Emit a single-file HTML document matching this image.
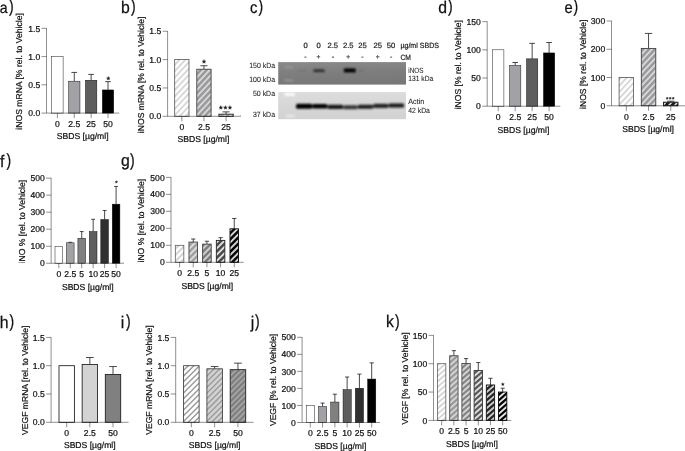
<!DOCTYPE html>
<html><head><meta charset="utf-8"><title>Figure</title>
<style>html,body{margin:0;padding:0;background:#fff;}svg{display:block;font-family:"Liberation Sans",sans-serif;text-rendering:geometricPrecision;}</style></head>
<body>
<svg width="685" height="451" viewBox="0 0 685 451">
<rect width="685" height="451" fill="#fff"/>
<defs>
<clipPath id="c1"><rect x="174.7" y="59.6" width="14.3" height="56.7"/></clipPath>
<clipPath id="c2"><rect x="196.8" y="69.24" width="14.3" height="47.06"/></clipPath>
<clipPath id="c3"><rect x="218.9" y="114.2" width="14.3" height="2.1"/></clipPath>
<clipPath id="c4"><rect x="619.1" y="77.53" width="14.5" height="28.27"/></clipPath>
<clipPath id="c5"><rect x="641.3" y="48.41" width="14.5" height="57.39"/></clipPath>
<clipPath id="c6"><rect x="663.5" y="102.18" width="14.5" height="3.62"/></clipPath>
<clipPath id="c7"><rect x="175.3" y="245.31" width="8.55" height="16.99"/></clipPath>
<clipPath id="c8"><rect x="188.97" y="242.08" width="8.55" height="20.22"/></clipPath>
<clipPath id="c9"><rect x="202.64" y="244.12" width="8.55" height="18.18"/></clipPath>
<clipPath id="c10"><rect x="216.31" y="240.38" width="8.55" height="21.92"/></clipPath>
<clipPath id="c11"><rect x="229.98" y="228.83" width="8.55" height="33.47"/></clipPath>
<clipPath id="c12"><rect x="183.6" y="365.7" width="15.5" height="56.6"/></clipPath>
<clipPath id="c13"><rect x="206.9" y="368.81" width="15.5" height="53.49"/></clipPath>
<clipPath id="c14"><rect x="230.2" y="369.66" width="15.5" height="52.64"/></clipPath>
<clipPath id="c15"><rect x="437.5" y="363.7" width="8.35" height="56.7"/></clipPath>
<clipPath id="c16"><rect x="449.7" y="355.76" width="8.35" height="64.64"/></clipPath>
<clipPath id="c17"><rect x="461.9" y="363.42" width="8.35" height="56.98"/></clipPath>
<clipPath id="c18"><rect x="474.1" y="370.5" width="8.35" height="49.9"/></clipPath>
<clipPath id="c19"><rect x="486.3" y="384.96" width="8.35" height="35.44"/></clipPath>
<clipPath id="c20"><rect x="498.5" y="392.05" width="8.35" height="28.35"/></clipPath>
<filter id="bl" x="-20%" y="-100%" width="140%" height="300%"><feGaussianBlur stdDeviation="0.8"/></filter>
<filter id="bl2" x="-20%" y="-100%" width="140%" height="300%"><feGaussianBlur stdDeviation="1.1"/></filter>
<linearGradient id="g1" x1="0" x2="0.15" y1="0" y2="1"><stop offset="0" stop-color="#8a8a8a"/><stop offset="0.5" stop-color="#7e7e7e"/><stop offset="1" stop-color="#787878"/></linearGradient>
<linearGradient id="g2" x1="0" x2="0" y1="0" y2="1"><stop offset="0" stop-color="#dcdcdc"/><stop offset="1" stop-color="#d2d2d2"/></linearGradient>
</defs>
<g opacity="0.999">
<text transform="translate(-0.21 12.6) scale(0.9 1)" font-size="15.7" fill="#111" stroke="#111" stroke-width="0.25">a</text>
<text transform="translate(8.9 12.1) scale(0.8 1)" font-size="17.5" fill="#111" stroke="#111" stroke-width="0.25">)</text>
<text transform="translate(121.07 12.6) scale(0.94 1)" font-size="16.8" fill="#111" stroke="#111" stroke-width="0.25">b</text>
<text transform="translate(131 12.1) scale(0.8 1)" font-size="17.5" fill="#111" stroke="#111" stroke-width="0.25">)</text>
<text transform="translate(250.07 12.7) scale(0.9 1)" font-size="16.4" fill="#111" stroke="#111" stroke-width="0.25">c</text>
<text transform="translate(258.5 12.2) scale(0.8 1)" font-size="17.5" fill="#111" stroke="#111" stroke-width="0.25">)</text>
<text transform="translate(438.34 12.7) scale(0.94 1)" font-size="16.8" fill="#111" stroke="#111" stroke-width="0.25">d</text>
<text transform="translate(448 12.2) scale(0.8 1)" font-size="17.5" fill="#111" stroke="#111" stroke-width="0.25">)</text>
<text transform="translate(564.47 12.7) scale(0.9 1)" font-size="16.4" fill="#111" stroke="#111" stroke-width="0.25">e</text>
<text transform="translate(573.6 12.2) scale(0.8 1)" font-size="17.5" fill="#111" stroke="#111" stroke-width="0.25">)</text>
<text transform="translate(0.02 166.5) scale(0.94 1)" font-size="16.8" fill="#111" stroke="#111" stroke-width="0.25">f</text>
<text transform="translate(6.5 166) scale(0.8 1)" font-size="17.5" fill="#111" stroke="#111" stroke-width="0.25">)</text>
<text transform="translate(121.04 166.4) scale(0.94 1)" font-size="16.8" fill="#111" stroke="#111" stroke-width="0.25">g</text>
<text transform="translate(130 165.9) scale(0.8 1)" font-size="17.5" fill="#111" stroke="#111" stroke-width="0.25">)</text>
<text transform="translate(-0.23 327.5) scale(0.94 1)" font-size="16.8" fill="#111" stroke="#111" stroke-width="0.25">h</text>
<text transform="translate(9.6 327) scale(0.8 1)" font-size="17.5" fill="#111" stroke="#111" stroke-width="0.25">)</text>
<text transform="translate(120.87 327.5) scale(0.94 1)" font-size="16.8" fill="#111" stroke="#111" stroke-width="0.25">i</text>
<text transform="translate(125.9 327) scale(0.8 1)" font-size="17.5" fill="#111" stroke="#111" stroke-width="0.25">)</text>
<text transform="translate(250.75 327.5) scale(0.94 1)" font-size="16.8" fill="#111" stroke="#111" stroke-width="0.25">j</text>
<text transform="translate(255 327) scale(0.8 1)" font-size="17.5" fill="#111" stroke="#111" stroke-width="0.25">)</text>
<text transform="translate(386.07 327.1) scale(0.94 1)" font-size="16.8" fill="#111" stroke="#111" stroke-width="0.25">k</text>
<text transform="translate(395 326.6) scale(0.8 1)" font-size="17.5" fill="#111" stroke="#111" stroke-width="0.25">)</text>
<rect x="51.7" y="56.6" width="11.4" height="56.5" fill="#ffffff" stroke="#0a0a0a" stroke-width="0.46"/>
<path d="M74.27 81.18L74.27 72.42" stroke="#1c1c1c" stroke-width="0.8" fill="none"/>
<path d="M71.42 72.42L77.12 72.42" stroke="#1c1c1c" stroke-width="0.8" fill="none"/>
<rect x="68.57" y="81.18" width="11.4" height="31.92" fill="#a2a2a6" stroke="#0a0a0a" stroke-width="0.46"/>
<path d="M91.14 80.22L91.14 74.4" stroke="#1c1c1c" stroke-width="0.8" fill="none"/>
<path d="M88.29 74.4L93.99 74.4" stroke="#1c1c1c" stroke-width="0.8" fill="none"/>
<rect x="85.44" y="80.22" width="11.4" height="32.88" fill="#5e5e5e" stroke="#0a0a0a" stroke-width="0.46"/>
<path d="M108.01 89.94L108.01 81.63" stroke="#1c1c1c" stroke-width="0.8" fill="none"/>
<path d="M105.16 81.63L110.86 81.63" stroke="#1c1c1c" stroke-width="0.8" fill="none"/>
<rect x="102.31" y="89.94" width="11.4" height="23.16" fill="#000000" stroke="#0a0a0a" stroke-width="0.46"/>
<path d="M46.5 28.12L46.5 113.1" stroke="#0a0a0a" stroke-width="0.46" fill="none"/>
<path d="M41.5 113.1L119.3 113.1" stroke="#0a0a0a" stroke-width="0.46" fill="none"/>
<text x="40.2" y="116.25" font-size="8.6" text-anchor="end" fill="#111" stroke="#111" stroke-width="0.22">0.0</text>
<path d="M41.5 84.85L46.5 84.85" stroke="#0a0a0a" stroke-width="0.46" fill="none"/>
<text x="40.2" y="88" font-size="8.6" text-anchor="end" fill="#111" stroke="#111" stroke-width="0.22">0.5</text>
<path d="M41.5 56.6L46.5 56.6" stroke="#0a0a0a" stroke-width="0.46" fill="none"/>
<text x="40.2" y="59.75" font-size="8.6" text-anchor="end" fill="#111" stroke="#111" stroke-width="0.22">1.0</text>
<path d="M41.5 28.35L46.5 28.35" stroke="#0a0a0a" stroke-width="0.46" fill="none"/>
<text x="40.2" y="31.5" font-size="8.6" text-anchor="end" fill="#111" stroke="#111" stroke-width="0.22">1.5</text>
<path d="M57.4 113.1L57.4 118.1" stroke="#0a0a0a" stroke-width="0.46" fill="none"/>
<text x="57.4" y="126.95" font-size="8.6" text-anchor="middle" fill="#111" stroke="#111" stroke-width="0.22">0</text>
<path d="M74.27 113.1L74.27 118.1" stroke="#0a0a0a" stroke-width="0.46" fill="none"/>
<text x="74.27" y="126.95" font-size="8.6" text-anchor="middle" fill="#111" stroke="#111" stroke-width="0.22">2.5</text>
<path d="M91.14 113.1L91.14 118.1" stroke="#0a0a0a" stroke-width="0.46" fill="none"/>
<text x="91.14" y="126.95" font-size="8.6" text-anchor="middle" fill="#111" stroke="#111" stroke-width="0.22">25</text>
<path d="M108.01 113.1L108.01 118.1" stroke="#0a0a0a" stroke-width="0.46" fill="none"/>
<text x="108.01" y="126.95" font-size="8.6" text-anchor="middle" fill="#111" stroke="#111" stroke-width="0.22">50</text>
<text x="82.7" y="139.25" font-size="8.6" text-anchor="middle" fill="#111" stroke="#111" stroke-width="0.22">SBDS [µg/ml]</text>
<text x="22.35" y="71.4" font-size="8.6" text-anchor="middle" fill="#111" stroke="#111" stroke-width="0.22" transform="rotate(-90 22.35 71.4)">iNOS mRNA [% rel. to Vehicle]</text>
<path d="M108.3 76.53L108.76 77.76L110.08 77.82L109.05 78.64L109.4 79.91L108.3 79.19L107.2 79.91L107.55 78.64L106.52 77.82L107.84 77.76Z" fill="#1a1a1a" stroke="#1a1a1a" stroke-width="0.35" stroke-linejoin="round"/>
<rect x="174.7" y="59.6" width="14.3" height="56.7" fill="#fff"/>
<path d="M172.7 136.34L191 116.72M172.7 130.04L191 110.42M172.7 123.74L191 104.12M172.7 117.44L191 97.82M172.7 111.14L191 91.52M172.7 104.84L191 85.22M172.7 98.54L191 78.92M172.7 92.24L191 72.62M172.7 85.94L191 66.32M172.7 79.64L191 60.02M172.7 73.34L191 53.72M172.7 67.04L191 47.42M172.7 60.74L191 41.12" stroke="#d6d6d6" stroke-width="1.8" fill="none" clip-path="url(#c1)"/>
<rect x="174.7" y="59.6" width="14.3" height="56.7" fill="none" stroke="#4a4a4a" stroke-width="0.75"/>
<path d="M203.95 69.24L203.95 65.72" stroke="#1c1c1c" stroke-width="0.8" fill="none"/>
<path d="M200.38 65.72L207.52 65.72" stroke="#1c1c1c" stroke-width="0.8" fill="none"/>
<rect x="196.8" y="69.24" width="14.3" height="47.06" fill="#9a9a9e"/>
<path d="M194.8 136.34L213.1 116.72M194.8 130.04L213.1 110.42M194.8 123.74L213.1 104.12M194.8 117.44L213.1 97.82M194.8 111.14L213.1 91.52M194.8 104.84L213.1 85.22M194.8 98.54L213.1 78.92M194.8 92.24L213.1 72.62M194.8 85.94L213.1 66.32M194.8 79.64L213.1 60.02M194.8 73.34L213.1 53.72" stroke="#d8d8d8" stroke-width="1.8" fill="none" clip-path="url(#c2)"/>
<rect x="196.8" y="69.24" width="14.3" height="47.06" fill="none" stroke="#3c3c3c" stroke-width="0.85"/>
<path d="M226.05 114.2L226.05 111.88" stroke="#1c1c1c" stroke-width="0.8" fill="none"/>
<path d="M222.47 111.88L229.62 111.88" stroke="#1c1c1c" stroke-width="0.8" fill="none"/>
<rect x="218.9" y="114.2" width="14.3" height="2.1" fill="#bbb"/>
<path d="M216.9 136.34L235.2 116.72M216.9 130.04L235.2 110.42M216.9 123.74L235.2 104.12M216.9 117.44L235.2 97.82" stroke="#fff" stroke-width="1.93" fill="none" clip-path="url(#c3)"/>
<rect x="218.9" y="114.2" width="14.3" height="2.1" fill="none" stroke="#1a1a1a" stroke-width="0.9"/>
<path d="M167.6 31.02L167.6 116.3" stroke="#0a0a0a" stroke-width="0.46" fill="none"/>
<path d="M162.6 116.3L240.2 116.3" stroke="#0a0a0a" stroke-width="0.46" fill="none"/>
<text x="161.3" y="119.45" font-size="8.6" text-anchor="end" fill="#111" stroke="#111" stroke-width="0.22">0.0</text>
<path d="M162.6 87.95L167.6 87.95" stroke="#0a0a0a" stroke-width="0.46" fill="none"/>
<text x="161.3" y="91.1" font-size="8.6" text-anchor="end" fill="#111" stroke="#111" stroke-width="0.22">0.5</text>
<path d="M162.6 59.6L167.6 59.6" stroke="#0a0a0a" stroke-width="0.46" fill="none"/>
<text x="161.3" y="62.75" font-size="8.6" text-anchor="end" fill="#111" stroke="#111" stroke-width="0.22">1.0</text>
<path d="M162.6 31.25L167.6 31.25" stroke="#0a0a0a" stroke-width="0.46" fill="none"/>
<text x="161.3" y="34.4" font-size="8.6" text-anchor="end" fill="#111" stroke="#111" stroke-width="0.22">1.5</text>
<path d="M181.85 116.3L181.85 121.3" stroke="#0a0a0a" stroke-width="0.46" fill="none"/>
<text x="181.85" y="130.15" font-size="8.6" text-anchor="middle" fill="#111" stroke="#111" stroke-width="0.22">0</text>
<path d="M203.95 116.3L203.95 121.3" stroke="#0a0a0a" stroke-width="0.46" fill="none"/>
<text x="203.95" y="130.15" font-size="8.6" text-anchor="middle" fill="#111" stroke="#111" stroke-width="0.22">2.5</text>
<path d="M226.05 116.3L226.05 121.3" stroke="#0a0a0a" stroke-width="0.46" fill="none"/>
<text x="226.05" y="130.15" font-size="8.6" text-anchor="middle" fill="#111" stroke="#111" stroke-width="0.22">25</text>
<text x="203.4" y="142.35" font-size="8.6" text-anchor="middle" fill="#111" stroke="#111" stroke-width="0.22">SBDS [µg/ml]</text>
<text x="143.85" y="74.9" font-size="8.6" text-anchor="middle" fill="#111" stroke="#111" stroke-width="0.22" transform="rotate(-90 143.85 74.9)">iNOS mRNA [% rel. to Vehicle]</text>
<path d="M204 59.61L204.49 60.92L205.89 60.99L204.79 61.86L205.17 63.21L204 62.44L202.83 63.21L203.21 61.86L202.11 60.99L203.51 60.92Z" fill="#1a1a1a" stroke="#1a1a1a" stroke-width="0.35" stroke-linejoin="round"/>
<path d="M220.85 105.61L221.34 106.92L222.74 106.99L221.64 107.86L222.02 109.21L220.85 108.44L219.68 109.21L220.05 107.86L218.96 106.99L220.36 106.92Z" fill="#1a1a1a" stroke="#1a1a1a" stroke-width="0.35" stroke-linejoin="round"/>
<path d="M225.4 105.61L225.89 106.92L227.29 106.99L226.19 107.86L226.57 109.21L225.4 108.44L224.23 109.21L224.61 107.86L223.51 106.99L224.91 106.92Z" fill="#1a1a1a" stroke="#1a1a1a" stroke-width="0.35" stroke-linejoin="round"/>
<path d="M229.95 105.61L230.44 106.92L231.84 106.99L230.75 107.86L231.12 109.21L229.95 108.44L228.78 109.21L229.16 107.86L228.06 106.99L229.46 106.92Z" fill="#1a1a1a" stroke="#1a1a1a" stroke-width="0.35" stroke-linejoin="round"/>
<rect x="492.6" y="49.83" width="11.3" height="56.37" fill="#ffffff" stroke="#0a0a0a" stroke-width="0.46"/>
<path d="M515.2 65.33L515.2 62.51" stroke="#1c1c1c" stroke-width="0.8" fill="none"/>
<path d="M512.38 62.51L518.03 62.51" stroke="#1c1c1c" stroke-width="0.8" fill="none"/>
<rect x="509.55" y="65.33" width="11.3" height="40.87" fill="#a2a2a6" stroke="#0a0a0a" stroke-width="0.46"/>
<path d="M532.15 58.85L532.15 43.35" stroke="#1c1c1c" stroke-width="0.8" fill="none"/>
<path d="M529.33 43.35L534.97 43.35" stroke="#1c1c1c" stroke-width="0.8" fill="none"/>
<rect x="526.5" y="58.85" width="11.3" height="47.35" fill="#5e5e5e" stroke="#0a0a0a" stroke-width="0.46"/>
<path d="M549.1 52.93L549.1 42.5" stroke="#1c1c1c" stroke-width="0.8" fill="none"/>
<path d="M546.28 42.5L551.92 42.5" stroke="#1c1c1c" stroke-width="0.8" fill="none"/>
<rect x="543.45" y="52.93" width="11.3" height="53.27" fill="#000000" stroke="#0a0a0a" stroke-width="0.46"/>
<path d="M487.2 21.42L487.2 106.2" stroke="#0a0a0a" stroke-width="0.46" fill="none"/>
<path d="M482.2 106.2L560.3 106.2" stroke="#0a0a0a" stroke-width="0.46" fill="none"/>
<text x="480.9" y="109.35" font-size="8.6" text-anchor="end" fill="#111" stroke="#111" stroke-width="0.22">0</text>
<path d="M482.2 78.02L487.2 78.02" stroke="#0a0a0a" stroke-width="0.46" fill="none"/>
<text x="480.9" y="81.17" font-size="8.6" text-anchor="end" fill="#111" stroke="#111" stroke-width="0.22">50</text>
<path d="M482.2 49.83L487.2 49.83" stroke="#0a0a0a" stroke-width="0.46" fill="none"/>
<text x="480.9" y="52.98" font-size="8.6" text-anchor="end" fill="#111" stroke="#111" stroke-width="0.22">100</text>
<path d="M482.2 21.65L487.2 21.65" stroke="#0a0a0a" stroke-width="0.46" fill="none"/>
<text x="480.9" y="24.8" font-size="8.6" text-anchor="end" fill="#111" stroke="#111" stroke-width="0.22">150</text>
<path d="M498.25 106.2L498.25 111.2" stroke="#0a0a0a" stroke-width="0.46" fill="none"/>
<text x="498.25" y="120.05" font-size="8.6" text-anchor="middle" fill="#111" stroke="#111" stroke-width="0.22">0</text>
<path d="M515.2 106.2L515.2 111.2" stroke="#0a0a0a" stroke-width="0.46" fill="none"/>
<text x="515.2" y="120.05" font-size="8.6" text-anchor="middle" fill="#111" stroke="#111" stroke-width="0.22">2.5</text>
<path d="M532.15 106.2L532.15 111.2" stroke="#0a0a0a" stroke-width="0.46" fill="none"/>
<text x="532.15" y="120.05" font-size="8.6" text-anchor="middle" fill="#111" stroke="#111" stroke-width="0.22">25</text>
<path d="M549.1 106.2L549.1 111.2" stroke="#0a0a0a" stroke-width="0.46" fill="none"/>
<text x="549.1" y="120.05" font-size="8.6" text-anchor="middle" fill="#111" stroke="#111" stroke-width="0.22">50</text>
<text x="523.4" y="132.55" font-size="8.6" text-anchor="middle" fill="#111" stroke="#111" stroke-width="0.22">SBDS [µg/ml]</text>
<text x="461.45" y="64.7" font-size="8.6" text-anchor="middle" fill="#111" stroke="#111" stroke-width="0.22" transform="rotate(-90 461.45 64.7)">iNOS [% rel. to Vehicle]</text>
<rect x="619.1" y="77.53" width="14.5" height="28.27" fill="#fff"/>
<path d="M617.1 125.84L635.6 106.01M617.1 119.54L635.6 99.71M617.1 113.24L635.6 93.41M617.1 106.94L635.6 87.11M617.1 100.64L635.6 80.81M617.1 94.34L635.6 74.51M617.1 88.04L635.6 68.21M617.1 81.74L635.6 61.91" stroke="#d6d6d6" stroke-width="1.8" fill="none" clip-path="url(#c4)"/>
<rect x="619.1" y="77.53" width="14.5" height="28.27" fill="none" stroke="#4a4a4a" stroke-width="0.75"/>
<path d="M648.55 48.41L648.55 33.43" stroke="#1c1c1c" stroke-width="0.8" fill="none"/>
<path d="M644.93 33.43L652.18 33.43" stroke="#1c1c1c" stroke-width="0.8" fill="none"/>
<rect x="641.3" y="48.41" width="14.5" height="57.39" fill="#9a9a9e"/>
<path d="M639.3 125.84L657.8 106.01M639.3 119.54L657.8 99.71M639.3 113.24L657.8 93.41M639.3 106.94L657.8 87.11M639.3 100.64L657.8 80.81M639.3 94.34L657.8 74.51M639.3 88.04L657.8 68.21M639.3 81.74L657.8 61.91M639.3 75.44L657.8 55.61M639.3 69.14L657.8 49.31M639.3 62.84L657.8 43.01M639.3 56.54L657.8 36.71M639.3 50.24L657.8 30.41" stroke="#d8d8d8" stroke-width="1.8" fill="none" clip-path="url(#c5)"/>
<rect x="641.3" y="48.41" width="14.5" height="57.39" fill="none" stroke="#3c3c3c" stroke-width="0.85"/>
<path d="M670.75 102.18L670.75 101.19" stroke="#1c1c1c" stroke-width="0.8" fill="none"/>
<path d="M667.12 101.19L674.38 101.19" stroke="#1c1c1c" stroke-width="0.8" fill="none"/>
<rect x="663.5" y="102.18" width="14.5" height="3.62" fill="#1c1c1c"/>
<path d="M661.5 125.84L680 106.01M661.5 119.54L680 99.71M661.5 113.24L680 93.41M661.5 106.94L680 87.11" stroke="#dddddd" stroke-width="1.55" fill="none" clip-path="url(#c6)"/>
<rect x="663.5" y="102.18" width="14.5" height="3.62" fill="none" stroke="#1a1a1a" stroke-width="0.9"/>
<path d="M611.5 20.76L611.5 105.8" stroke="#0a0a0a" stroke-width="0.46" fill="none"/>
<path d="M606.5 105.8L685.5 105.8" stroke="#0a0a0a" stroke-width="0.46" fill="none"/>
<text x="605.2" y="108.95" font-size="8.6" text-anchor="end" fill="#111" stroke="#111" stroke-width="0.22">0</text>
<path d="M606.5 77.53L611.5 77.53" stroke="#0a0a0a" stroke-width="0.46" fill="none"/>
<text x="605.2" y="80.68" font-size="8.6" text-anchor="end" fill="#111" stroke="#111" stroke-width="0.22">100</text>
<path d="M606.5 49.26L611.5 49.26" stroke="#0a0a0a" stroke-width="0.46" fill="none"/>
<text x="605.2" y="52.41" font-size="8.6" text-anchor="end" fill="#111" stroke="#111" stroke-width="0.22">200</text>
<path d="M606.5 20.99L611.5 20.99" stroke="#0a0a0a" stroke-width="0.46" fill="none"/>
<text x="605.2" y="24.14" font-size="8.6" text-anchor="end" fill="#111" stroke="#111" stroke-width="0.22">300</text>
<path d="M626.35 105.8L626.35 110.8" stroke="#0a0a0a" stroke-width="0.46" fill="none"/>
<text x="626.35" y="119.65" font-size="8.6" text-anchor="middle" fill="#111" stroke="#111" stroke-width="0.22">0</text>
<path d="M648.55 105.8L648.55 110.8" stroke="#0a0a0a" stroke-width="0.46" fill="none"/>
<text x="648.55" y="119.65" font-size="8.6" text-anchor="middle" fill="#111" stroke="#111" stroke-width="0.22">2.5</text>
<path d="M670.75 105.8L670.75 110.8" stroke="#0a0a0a" stroke-width="0.46" fill="none"/>
<text x="670.75" y="119.65" font-size="8.6" text-anchor="middle" fill="#111" stroke="#111" stroke-width="0.22">25</text>
<text x="648.1" y="132.15" font-size="8.6" text-anchor="middle" fill="#111" stroke="#111" stroke-width="0.22">SBDS [µg/ml]</text>
<text x="586.15" y="64.3" font-size="8.6" text-anchor="middle" fill="#111" stroke="#111" stroke-width="0.22" transform="rotate(-90 586.15 64.3)">iNOS [% rel. to Vehicle]</text>
<path d="M667.2 96.99L667.53 97.86L668.45 97.9L667.73 98.47L667.97 99.36L667.2 98.85L666.44 99.36L666.68 98.47L665.96 97.9L666.88 97.86Z" fill="#1a1a1a" stroke="#1a1a1a" stroke-width="0.35" stroke-linejoin="round"/>
<path d="M670.2 96.99L670.52 97.86L671.44 97.9L670.72 98.47L670.97 99.36L670.2 98.85L669.43 99.36L669.68 98.47L668.96 97.9L669.88 97.86Z" fill="#1a1a1a" stroke="#1a1a1a" stroke-width="0.35" stroke-linejoin="round"/>
<path d="M673.2 96.99L673.52 97.86L674.44 97.9L673.72 98.47L673.96 99.36L673.2 98.85L672.43 99.36L672.67 98.47L671.95 97.9L672.87 97.86Z" fill="#1a1a1a" stroke="#1a1a1a" stroke-width="0.35" stroke-linejoin="round"/>
<rect x="55" y="246.22" width="7.65" height="17.03" fill="#ffffff" stroke="#0a0a0a" stroke-width="0.46"/>
<path d="M70.28 242.81L70.28 242.3" stroke="#1c1c1c" stroke-width="0.8" fill="none"/>
<path d="M68.36 242.3L72.19 242.3" stroke="#1c1c1c" stroke-width="0.8" fill="none"/>
<rect x="66.45" y="242.81" width="7.65" height="20.44" fill="#a2a2a6" stroke="#0a0a0a" stroke-width="0.46"/>
<path d="M81.73 238.22L81.73 231.57" stroke="#1c1c1c" stroke-width="0.8" fill="none"/>
<path d="M79.81 231.57L83.64 231.57" stroke="#1c1c1c" stroke-width="0.8" fill="none"/>
<rect x="77.9" y="238.22" width="7.65" height="25.03" fill="#808080" stroke="#0a0a0a" stroke-width="0.46"/>
<path d="M93.17 231.57L93.17 219.31" stroke="#1c1c1c" stroke-width="0.8" fill="none"/>
<path d="M91.26 219.31L95.09 219.31" stroke="#1c1c1c" stroke-width="0.8" fill="none"/>
<rect x="89.35" y="231.57" width="7.65" height="31.68" fill="#5e5e5e" stroke="#0a0a0a" stroke-width="0.46"/>
<path d="M104.62 219.48L104.62 210.46" stroke="#1c1c1c" stroke-width="0.8" fill="none"/>
<path d="M102.71 210.46L106.54 210.46" stroke="#1c1c1c" stroke-width="0.8" fill="none"/>
<rect x="100.8" y="219.48" width="7.65" height="43.77" fill="#303030" stroke="#0a0a0a" stroke-width="0.46"/>
<path d="M116.08 204.16L116.08 186.44" stroke="#1c1c1c" stroke-width="0.8" fill="none"/>
<path d="M114.16 186.44L117.99 186.44" stroke="#1c1c1c" stroke-width="0.8" fill="none"/>
<rect x="112.25" y="204.16" width="7.65" height="59.09" fill="#000000" stroke="#0a0a0a" stroke-width="0.46"/>
<path d="M51.15 177.87L51.15 263.25" stroke="#0a0a0a" stroke-width="0.46" fill="none"/>
<path d="M46.15 263.25L124 263.25" stroke="#0a0a0a" stroke-width="0.46" fill="none"/>
<text x="44.85" y="266.4" font-size="8.6" text-anchor="end" fill="#111" stroke="#111" stroke-width="0.22">0</text>
<path d="M46.15 246.22L51.15 246.22" stroke="#0a0a0a" stroke-width="0.46" fill="none"/>
<text x="44.85" y="249.37" font-size="8.6" text-anchor="end" fill="#111" stroke="#111" stroke-width="0.22">100</text>
<path d="M46.15 229.19L51.15 229.19" stroke="#0a0a0a" stroke-width="0.46" fill="none"/>
<text x="44.85" y="232.34" font-size="8.6" text-anchor="end" fill="#111" stroke="#111" stroke-width="0.22">200</text>
<path d="M46.15 212.16L51.15 212.16" stroke="#0a0a0a" stroke-width="0.46" fill="none"/>
<text x="44.85" y="215.31" font-size="8.6" text-anchor="end" fill="#111" stroke="#111" stroke-width="0.22">300</text>
<path d="M46.15 195.13L51.15 195.13" stroke="#0a0a0a" stroke-width="0.46" fill="none"/>
<text x="44.85" y="198.28" font-size="8.6" text-anchor="end" fill="#111" stroke="#111" stroke-width="0.22">400</text>
<path d="M46.15 178.1L51.15 178.1" stroke="#0a0a0a" stroke-width="0.46" fill="none"/>
<text x="44.85" y="181.25" font-size="8.6" text-anchor="end" fill="#111" stroke="#111" stroke-width="0.22">500</text>
<path d="M58.83 263.25L58.83 268.25" stroke="#0a0a0a" stroke-width="0.46" fill="none"/>
<text x="58.83" y="277.1" font-size="8.6" text-anchor="middle" fill="#111" stroke="#111" stroke-width="0.22">0</text>
<path d="M70.28 263.25L70.28 268.25" stroke="#0a0a0a" stroke-width="0.46" fill="none"/>
<text x="70.28" y="277.1" font-size="8.6" text-anchor="middle" fill="#111" stroke="#111" stroke-width="0.22">2.5</text>
<path d="M81.73 263.25L81.73 268.25" stroke="#0a0a0a" stroke-width="0.46" fill="none"/>
<text x="81.73" y="277.1" font-size="8.6" text-anchor="middle" fill="#111" stroke="#111" stroke-width="0.22">5</text>
<path d="M93.17 263.25L93.17 268.25" stroke="#0a0a0a" stroke-width="0.46" fill="none"/>
<text x="93.17" y="277.1" font-size="8.6" text-anchor="middle" fill="#111" stroke="#111" stroke-width="0.22">10</text>
<path d="M104.62 263.25L104.62 268.25" stroke="#0a0a0a" stroke-width="0.46" fill="none"/>
<text x="104.62" y="277.1" font-size="8.6" text-anchor="middle" fill="#111" stroke="#111" stroke-width="0.22">25</text>
<path d="M116.08 263.25L116.08 268.25" stroke="#0a0a0a" stroke-width="0.46" fill="none"/>
<text x="116.08" y="277.1" font-size="8.6" text-anchor="middle" fill="#111" stroke="#111" stroke-width="0.22">50</text>
<text x="87.8" y="289.8" font-size="8.6" text-anchor="middle" fill="#111" stroke="#111" stroke-width="0.22">SBDS [µg/ml]</text>
<text x="25.05" y="221.6" font-size="8.6" text-anchor="middle" fill="#111" stroke="#111" stroke-width="0.22" transform="rotate(-90 25.05 221.6)"><tspan fill="#8a8a8a" stroke="#8a8a8a">i</tspan>NO % [rel. to Vehicle]</text>
<path d="M116.4 180.64L116.74 181.54L117.69 181.58L116.94 182.18L117.2 183.1L116.4 182.57L115.6 183.1L115.86 182.18L115.11 181.58L116.06 181.54Z" fill="#1a1a1a" stroke="#1a1a1a" stroke-width="0.35" stroke-linejoin="round"/>
<rect x="175.3" y="245.31" width="8.55" height="16.99" fill="#fff"/>
<path d="M173.3 281.9L185.85 269.35M173.3 275.7L185.85 263.15M173.3 269.5L185.85 256.95M173.3 263.3L185.85 250.75M173.3 257.1L185.85 244.55M173.3 250.9L185.85 238.35" stroke="#d4d4d4" stroke-width="1.93" fill="none" clip-path="url(#c7)"/>
<rect x="175.3" y="245.31" width="8.55" height="16.99" fill="none" stroke="#555" stroke-width="0.75"/>
<path d="M193.25 242.08L193.25 239.02" stroke="#1c1c1c" stroke-width="0.8" fill="none"/>
<path d="M191.11 239.02L195.38 239.02" stroke="#1c1c1c" stroke-width="0.8" fill="none"/>
<rect x="188.97" y="242.08" width="8.55" height="20.22" fill="#a0a0a2"/>
<path d="M186.97 281.9L199.52 269.35M186.97 275.7L199.52 263.15M186.97 269.5L199.52 256.95M186.97 263.3L199.52 250.75M186.97 257.1L199.52 244.55M186.97 250.9L199.52 238.35M186.97 244.7L199.52 232.15" stroke="#dcdcdc" stroke-width="1.97" fill="none" clip-path="url(#c8)"/>
<rect x="188.97" y="242.08" width="8.55" height="20.22" fill="none" stroke="#3a3a3a" stroke-width="0.85"/>
<path d="M206.92 244.12L206.92 241.23" stroke="#1c1c1c" stroke-width="0.8" fill="none"/>
<path d="M204.78 241.23L209.05 241.23" stroke="#1c1c1c" stroke-width="0.8" fill="none"/>
<rect x="202.64" y="244.12" width="8.55" height="18.18" fill="#7c7c7c"/>
<path d="M200.64 281.9L213.19 269.35M200.64 275.7L213.19 263.15M200.64 269.5L213.19 256.95M200.64 263.3L213.19 250.75M200.64 257.1L213.19 244.55M200.64 250.9L213.19 238.35M200.64 244.7L213.19 232.15" stroke="#cccccc" stroke-width="1.97" fill="none" clip-path="url(#c9)"/>
<rect x="202.64" y="244.12" width="8.55" height="18.18" fill="none" stroke="#3a3a3a" stroke-width="0.85"/>
<path d="M220.59 240.38L220.59 237.66" stroke="#1c1c1c" stroke-width="0.8" fill="none"/>
<path d="M218.45 237.66L222.72 237.66" stroke="#1c1c1c" stroke-width="0.8" fill="none"/>
<rect x="216.31" y="240.38" width="8.55" height="21.92" fill="#484848"/>
<path d="M214.31 281.9L226.86 269.35M214.31 275.7L226.86 263.15M214.31 269.5L226.86 256.95M214.31 263.3L226.86 250.75M214.31 257.1L226.86 244.55M214.31 250.9L226.86 238.35M214.31 244.7L226.86 232.15" stroke="#dddddd" stroke-width="1.97" fill="none" clip-path="url(#c10)"/>
<rect x="216.31" y="240.38" width="8.55" height="21.92" fill="none" stroke="#222" stroke-width="0.85"/>
<path d="M234.26 228.83L234.26 218.47" stroke="#1c1c1c" stroke-width="0.8" fill="none"/>
<path d="M232.12 218.47L236.39 218.47" stroke="#1c1c1c" stroke-width="0.8" fill="none"/>
<rect x="229.98" y="228.83" width="8.55" height="33.47" fill="#060606"/>
<path d="M227.98 281.9L240.53 269.35M227.98 275.7L240.53 263.15M227.98 269.5L240.53 256.95M227.98 263.3L240.53 250.75M227.98 257.1L240.53 244.55M227.98 250.9L240.53 238.35M227.98 244.7L240.53 232.15M227.98 238.5L240.53 225.95M227.98 232.3L240.53 219.75" stroke="#d4d4d4" stroke-width="1.97" fill="none" clip-path="url(#c11)"/>
<rect x="229.98" y="228.83" width="8.55" height="33.47" fill="none" stroke="#000" stroke-width="0.85"/>
<path d="M171 177.12L171 262.3" stroke="#0a0a0a" stroke-width="0.46" fill="none"/>
<path d="M166 262.3L243.6 262.3" stroke="#0a0a0a" stroke-width="0.46" fill="none"/>
<text x="164.7" y="265.45" font-size="8.6" text-anchor="end" fill="#111" stroke="#111" stroke-width="0.22">0</text>
<path d="M166 245.31L171 245.31" stroke="#0a0a0a" stroke-width="0.46" fill="none"/>
<text x="164.7" y="248.46" font-size="8.6" text-anchor="end" fill="#111" stroke="#111" stroke-width="0.22">100</text>
<path d="M166 228.32L171 228.32" stroke="#0a0a0a" stroke-width="0.46" fill="none"/>
<text x="164.7" y="231.47" font-size="8.6" text-anchor="end" fill="#111" stroke="#111" stroke-width="0.22">200</text>
<path d="M166 211.33L171 211.33" stroke="#0a0a0a" stroke-width="0.46" fill="none"/>
<text x="164.7" y="214.48" font-size="8.6" text-anchor="end" fill="#111" stroke="#111" stroke-width="0.22">300</text>
<path d="M166 194.34L171 194.34" stroke="#0a0a0a" stroke-width="0.46" fill="none"/>
<text x="164.7" y="197.49" font-size="8.6" text-anchor="end" fill="#111" stroke="#111" stroke-width="0.22">400</text>
<path d="M166 177.35L171 177.35" stroke="#0a0a0a" stroke-width="0.46" fill="none"/>
<text x="164.7" y="180.5" font-size="8.6" text-anchor="end" fill="#111" stroke="#111" stroke-width="0.22">500</text>
<path d="M179.58 262.3L179.58 267.3" stroke="#0a0a0a" stroke-width="0.46" fill="none"/>
<text x="179.58" y="276.15" font-size="8.6" text-anchor="middle" fill="#111" stroke="#111" stroke-width="0.22">0</text>
<path d="M193.25 262.3L193.25 267.3" stroke="#0a0a0a" stroke-width="0.46" fill="none"/>
<text x="193.25" y="276.15" font-size="8.6" text-anchor="middle" fill="#111" stroke="#111" stroke-width="0.22">2.5</text>
<path d="M206.92 262.3L206.92 267.3" stroke="#0a0a0a" stroke-width="0.46" fill="none"/>
<text x="206.92" y="276.15" font-size="8.6" text-anchor="middle" fill="#111" stroke="#111" stroke-width="0.22">5</text>
<path d="M220.59 262.3L220.59 267.3" stroke="#0a0a0a" stroke-width="0.46" fill="none"/>
<text x="220.59" y="276.15" font-size="8.6" text-anchor="middle" fill="#111" stroke="#111" stroke-width="0.22">10</text>
<path d="M234.26 262.3L234.26 267.3" stroke="#0a0a0a" stroke-width="0.46" fill="none"/>
<text x="234.26" y="276.15" font-size="8.6" text-anchor="middle" fill="#111" stroke="#111" stroke-width="0.22">25</text>
<text x="207.3" y="288.75" font-size="8.6" text-anchor="middle" fill="#111" stroke="#111" stroke-width="0.22">SBDS [µg/ml]</text>
<text x="144.45" y="220.7" font-size="8.6" text-anchor="middle" fill="#111" stroke="#111" stroke-width="0.22" transform="rotate(-90 144.45 220.7)">iNO % [rel. to Vehicle]</text>
<rect x="59" y="365.7" width="15.4" height="56.6" fill="#ffffff" stroke="#1a1a1a" stroke-width="0.85"/>
<path d="M89.85 364.57L89.85 357.49" stroke="#1c1c1c" stroke-width="0.8" fill="none"/>
<path d="M86 357.49L93.7 357.49" stroke="#1c1c1c" stroke-width="0.8" fill="none"/>
<rect x="82.15" y="364.57" width="15.4" height="57.73" fill="#d3d3d3" stroke="#1a1a1a" stroke-width="0.85"/>
<path d="M113 374.47L113 366.55" stroke="#1c1c1c" stroke-width="0.8" fill="none"/>
<path d="M109.15 366.55L116.85 366.55" stroke="#1c1c1c" stroke-width="0.8" fill="none"/>
<rect x="105.3" y="374.47" width="15.4" height="47.83" fill="#808080" stroke="#1a1a1a" stroke-width="0.85"/>
<path d="M51.1 337.17L51.1 422.3" stroke="#0a0a0a" stroke-width="0.46" fill="none"/>
<path d="M46.1 422.3L128.6 422.3" stroke="#0a0a0a" stroke-width="0.46" fill="none"/>
<text x="44.8" y="425.45" font-size="8.6" text-anchor="end" fill="#111" stroke="#111" stroke-width="0.22">0.0</text>
<path d="M46.1 394L51.1 394" stroke="#0a0a0a" stroke-width="0.46" fill="none"/>
<text x="44.8" y="397.15" font-size="8.6" text-anchor="end" fill="#111" stroke="#111" stroke-width="0.22">0.5</text>
<path d="M46.1 365.7L51.1 365.7" stroke="#0a0a0a" stroke-width="0.46" fill="none"/>
<text x="44.8" y="368.85" font-size="8.6" text-anchor="end" fill="#111" stroke="#111" stroke-width="0.22">1.0</text>
<path d="M46.1 337.4L51.1 337.4" stroke="#0a0a0a" stroke-width="0.46" fill="none"/>
<text x="44.8" y="340.55" font-size="8.6" text-anchor="end" fill="#111" stroke="#111" stroke-width="0.22">1.5</text>
<path d="M66.7 422.3L66.7 427.3" stroke="#0a0a0a" stroke-width="0.46" fill="none"/>
<text x="66.7" y="435.95" font-size="8.6" text-anchor="middle" fill="#111" stroke="#111" stroke-width="0.22">0</text>
<path d="M89.85 422.3L89.85 427.3" stroke="#0a0a0a" stroke-width="0.46" fill="none"/>
<text x="89.85" y="435.95" font-size="8.6" text-anchor="middle" fill="#111" stroke="#111" stroke-width="0.22">2.5</text>
<path d="M113 422.3L113 427.3" stroke="#0a0a0a" stroke-width="0.46" fill="none"/>
<text x="113" y="435.95" font-size="8.6" text-anchor="middle" fill="#111" stroke="#111" stroke-width="0.22">50</text>
<text x="89.8" y="448.45" font-size="8.6" text-anchor="middle" fill="#111" stroke="#111" stroke-width="0.22">SBDS [µg/ml]</text>
<text x="27.75" y="380.3" font-size="8.6" text-anchor="middle" fill="#111" stroke="#111" stroke-width="0.22" transform="rotate(-90 27.75 380.3)">VEGF mRNA [rel. to Vehicle]</text>
<rect x="183.6" y="365.7" width="15.5" height="56.6" fill="#fff"/>
<path d="M181.6 440.28L201.1 420.78M181.6 434.62L201.1 415.12M181.6 428.96L201.1 409.46M181.6 423.3L201.1 403.8M181.6 417.64L201.1 398.14M181.6 411.98L201.1 392.48M181.6 406.32L201.1 386.82M181.6 400.66L201.1 381.16M181.6 395L201.1 375.5M181.6 389.34L201.1 369.84M181.6 383.68L201.1 364.18M181.6 378.02L201.1 358.52M181.6 372.36L201.1 352.86M181.6 366.7L201.1 347.2" stroke="#9a9a9a" stroke-width="1.44" fill="none" clip-path="url(#c12)"/>
<rect x="183.6" y="365.7" width="15.5" height="56.6" fill="none" stroke="#3a3a3a" stroke-width="0.85"/>
<path d="M214.65 368.81L214.65 366.55" stroke="#1c1c1c" stroke-width="0.8" fill="none"/>
<path d="M210.78 366.55L218.53 366.55" stroke="#1c1c1c" stroke-width="0.8" fill="none"/>
<rect x="206.9" y="368.81" width="15.5" height="53.49" fill="#d2d2d2"/>
<path d="M204.9 440.28L224.4 420.78M204.9 434.62L224.4 415.12M204.9 428.96L224.4 409.46M204.9 423.3L224.4 403.8M204.9 417.64L224.4 398.14M204.9 411.98L224.4 392.48M204.9 406.32L224.4 386.82M204.9 400.66L224.4 381.16M204.9 395L224.4 375.5M204.9 389.34L224.4 369.84M204.9 383.68L224.4 364.18M204.9 378.02L224.4 358.52M204.9 372.36L224.4 352.86" stroke="#9c9c9c" stroke-width="1.44" fill="none" clip-path="url(#c13)"/>
<rect x="206.9" y="368.81" width="15.5" height="53.49" fill="none" stroke="#3a3a3a" stroke-width="0.85"/>
<path d="M237.95 369.66L237.95 363.15" stroke="#1c1c1c" stroke-width="0.8" fill="none"/>
<path d="M234.07 363.15L241.82 363.15" stroke="#1c1c1c" stroke-width="0.8" fill="none"/>
<rect x="230.2" y="369.66" width="15.5" height="52.64" fill="#808080"/>
<path d="M228.2 440.28L247.7 420.78M228.2 434.62L247.7 415.12M228.2 428.96L247.7 409.46M228.2 423.3L247.7 403.8M228.2 417.64L247.7 398.14M228.2 411.98L247.7 392.48M228.2 406.32L247.7 386.82M228.2 400.66L247.7 381.16M228.2 395L247.7 375.5M228.2 389.34L247.7 369.84M228.2 383.68L247.7 364.18M228.2 378.02L247.7 358.52M228.2 372.36L247.7 352.86" stroke="#a8a8a8" stroke-width="1.6" fill="none" clip-path="url(#c14)"/>
<rect x="230.2" y="369.66" width="15.5" height="52.64" fill="none" stroke="#262626" stroke-width="0.9"/>
<path d="M175.7 337.17L175.7 422.3" stroke="#0a0a0a" stroke-width="0.46" fill="none"/>
<path d="M170.7 422.3L253.6 422.3" stroke="#0a0a0a" stroke-width="0.46" fill="none"/>
<text x="169.4" y="425.45" font-size="8.6" text-anchor="end" fill="#111" stroke="#111" stroke-width="0.22">0.0</text>
<path d="M170.7 394L175.7 394" stroke="#0a0a0a" stroke-width="0.46" fill="none"/>
<text x="169.4" y="397.15" font-size="8.6" text-anchor="end" fill="#111" stroke="#111" stroke-width="0.22">0.5</text>
<path d="M170.7 365.7L175.7 365.7" stroke="#0a0a0a" stroke-width="0.46" fill="none"/>
<text x="169.4" y="368.85" font-size="8.6" text-anchor="end" fill="#111" stroke="#111" stroke-width="0.22">1.0</text>
<path d="M170.7 337.4L175.7 337.4" stroke="#0a0a0a" stroke-width="0.46" fill="none"/>
<text x="169.4" y="340.55" font-size="8.6" text-anchor="end" fill="#111" stroke="#111" stroke-width="0.22">1.5</text>
<path d="M191.35 422.3L191.35 427.3" stroke="#0a0a0a" stroke-width="0.46" fill="none"/>
<text x="191.35" y="435.95" font-size="8.6" text-anchor="middle" fill="#111" stroke="#111" stroke-width="0.22">0</text>
<path d="M214.65 422.3L214.65 427.3" stroke="#0a0a0a" stroke-width="0.46" fill="none"/>
<text x="214.65" y="435.95" font-size="8.6" text-anchor="middle" fill="#111" stroke="#111" stroke-width="0.22">2.5</text>
<path d="M237.95 422.3L237.95 427.3" stroke="#0a0a0a" stroke-width="0.46" fill="none"/>
<text x="237.95" y="435.95" font-size="8.6" text-anchor="middle" fill="#111" stroke="#111" stroke-width="0.22">50</text>
<text x="214.6" y="448.45" font-size="8.6" text-anchor="middle" fill="#111" stroke="#111" stroke-width="0.22">SBDS [µg/ml]</text>
<text x="152.15" y="380.1" font-size="8.6" text-anchor="middle" fill="#111" stroke="#111" stroke-width="0.22" transform="rotate(-90 152.15 380.1)">VEGF mRNA [rel. to Vehicle]</text>
<rect x="306.2" y="405.46" width="8.2" height="17.04" fill="#ffffff" stroke="#0a0a0a" stroke-width="0.46"/>
<path d="M322.58 406.48L322.58 403.07" stroke="#1c1c1c" stroke-width="0.8" fill="none"/>
<path d="M320.53 403.07L324.63 403.07" stroke="#1c1c1c" stroke-width="0.8" fill="none"/>
<rect x="318.48" y="406.48" width="8.2" height="16.02" fill="#a2a2a6" stroke="#0a0a0a" stroke-width="0.46"/>
<path d="M334.86 402.05L334.86 394.21" stroke="#1c1c1c" stroke-width="0.8" fill="none"/>
<path d="M332.81 394.21L336.91 394.21" stroke="#1c1c1c" stroke-width="0.8" fill="none"/>
<rect x="330.76" y="402.05" width="8.2" height="20.45" fill="#808080" stroke="#0a0a0a" stroke-width="0.46"/>
<path d="M347.14 389.61L347.14 377" stroke="#1c1c1c" stroke-width="0.8" fill="none"/>
<path d="M345.09 377L349.19 377" stroke="#1c1c1c" stroke-width="0.8" fill="none"/>
<rect x="343.04" y="389.61" width="8.2" height="32.89" fill="#5e5e5e" stroke="#0a0a0a" stroke-width="0.46"/>
<path d="M359.42 388.25L359.42 374.11" stroke="#1c1c1c" stroke-width="0.8" fill="none"/>
<path d="M357.37 374.11L361.47 374.11" stroke="#1c1c1c" stroke-width="0.8" fill="none"/>
<rect x="355.32" y="388.25" width="8.2" height="34.25" fill="#303030" stroke="#0a0a0a" stroke-width="0.46"/>
<path d="M371.7 379.05L371.7 362.86" stroke="#1c1c1c" stroke-width="0.8" fill="none"/>
<path d="M369.65 362.86L373.75 362.86" stroke="#1c1c1c" stroke-width="0.8" fill="none"/>
<rect x="367.6" y="379.05" width="8.2" height="43.45" fill="#000000" stroke="#0a0a0a" stroke-width="0.46"/>
<path d="M302.1 337.07L302.1 422.5" stroke="#0a0a0a" stroke-width="0.46" fill="none"/>
<path d="M297.1 422.5L380 422.5" stroke="#0a0a0a" stroke-width="0.46" fill="none"/>
<text x="295.8" y="425.65" font-size="8.6" text-anchor="end" fill="#111" stroke="#111" stroke-width="0.22">0</text>
<path d="M297.1 405.46L302.1 405.46" stroke="#0a0a0a" stroke-width="0.46" fill="none"/>
<text x="295.8" y="408.61" font-size="8.6" text-anchor="end" fill="#111" stroke="#111" stroke-width="0.22">100</text>
<path d="M297.1 388.42L302.1 388.42" stroke="#0a0a0a" stroke-width="0.46" fill="none"/>
<text x="295.8" y="391.57" font-size="8.6" text-anchor="end" fill="#111" stroke="#111" stroke-width="0.22">200</text>
<path d="M297.1 371.38L302.1 371.38" stroke="#0a0a0a" stroke-width="0.46" fill="none"/>
<text x="295.8" y="374.53" font-size="8.6" text-anchor="end" fill="#111" stroke="#111" stroke-width="0.22">300</text>
<path d="M297.1 354.34L302.1 354.34" stroke="#0a0a0a" stroke-width="0.46" fill="none"/>
<text x="295.8" y="357.49" font-size="8.6" text-anchor="end" fill="#111" stroke="#111" stroke-width="0.22">400</text>
<path d="M297.1 337.3L302.1 337.3" stroke="#0a0a0a" stroke-width="0.46" fill="none"/>
<text x="295.8" y="340.45" font-size="8.6" text-anchor="end" fill="#111" stroke="#111" stroke-width="0.22">500</text>
<path d="M310.3 422.5L310.3 427.5" stroke="#0a0a0a" stroke-width="0.46" fill="none"/>
<text x="310.3" y="436.15" font-size="8.6" text-anchor="middle" fill="#111" stroke="#111" stroke-width="0.22">0</text>
<path d="M322.58 422.5L322.58 427.5" stroke="#0a0a0a" stroke-width="0.46" fill="none"/>
<text x="322.58" y="436.15" font-size="8.6" text-anchor="middle" fill="#111" stroke="#111" stroke-width="0.22">2.5</text>
<path d="M334.86 422.5L334.86 427.5" stroke="#0a0a0a" stroke-width="0.46" fill="none"/>
<text x="334.86" y="436.15" font-size="8.6" text-anchor="middle" fill="#111" stroke="#111" stroke-width="0.22">5</text>
<path d="M347.14 422.5L347.14 427.5" stroke="#0a0a0a" stroke-width="0.46" fill="none"/>
<text x="347.14" y="436.15" font-size="8.6" text-anchor="middle" fill="#111" stroke="#111" stroke-width="0.22">10</text>
<path d="M359.42 422.5L359.42 427.5" stroke="#0a0a0a" stroke-width="0.46" fill="none"/>
<text x="359.42" y="436.15" font-size="8.6" text-anchor="middle" fill="#111" stroke="#111" stroke-width="0.22">25</text>
<path d="M371.7 422.5L371.7 427.5" stroke="#0a0a0a" stroke-width="0.46" fill="none"/>
<text x="371.7" y="436.15" font-size="8.6" text-anchor="middle" fill="#111" stroke="#111" stroke-width="0.22">50</text>
<text x="340.4" y="448.65" font-size="8.6" text-anchor="middle" fill="#111" stroke="#111" stroke-width="0.22">SBDS [µg/ml]</text>
<text x="276.25" y="380" font-size="8.6" text-anchor="middle" fill="#111" stroke="#111" stroke-width="0.22" transform="rotate(-90 276.25 380)">VEGF [% rel. to Vehicle]</text>
<rect x="437.5" y="363.7" width="8.35" height="56.7" fill="#fff"/>
<path d="M435.5 437.34L447.85 426.6M435.5 431.94L447.85 421.2M435.5 426.54L447.85 415.8M435.5 421.14L447.85 410.4M435.5 415.74L447.85 405M435.5 410.34L447.85 399.6M435.5 404.94L447.85 394.2M435.5 399.54L447.85 388.8M435.5 394.14L447.85 383.4M435.5 388.74L447.85 378M435.5 383.34L447.85 372.6M435.5 377.94L447.85 367.2M435.5 372.54L447.85 361.8M435.5 367.14L447.85 356.4" stroke="#d4d4d4" stroke-width="1.79" fill="none" clip-path="url(#c15)"/>
<rect x="437.5" y="363.7" width="8.35" height="56.7" fill="none" stroke="#555" stroke-width="0.75"/>
<path d="M453.88 355.76L453.88 350.66" stroke="#1c1c1c" stroke-width="0.8" fill="none"/>
<path d="M451.79 350.66L455.96 350.66" stroke="#1c1c1c" stroke-width="0.8" fill="none"/>
<rect x="449.7" y="355.76" width="8.35" height="64.64" fill="#9a9a9c"/>
<path d="M447.7 437.34L460.05 426.6M447.7 431.94L460.05 421.2M447.7 426.54L460.05 415.8M447.7 421.14L460.05 410.4M447.7 415.74L460.05 405M447.7 410.34L460.05 399.6M447.7 404.94L460.05 394.2M447.7 399.54L460.05 388.8M447.7 394.14L460.05 383.4M447.7 388.74L460.05 378M447.7 383.34L460.05 372.6M447.7 377.94L460.05 367.2M447.7 372.54L460.05 361.8M447.7 367.14L460.05 356.4M447.7 361.74L460.05 351M447.7 356.34L460.05 345.6" stroke="#d4d4d4" stroke-width="1.87" fill="none" clip-path="url(#c16)"/>
<rect x="449.7" y="355.76" width="8.35" height="64.64" fill="none" stroke="#444" stroke-width="0.85"/>
<path d="M466.07 363.42L466.07 358.6" stroke="#1c1c1c" stroke-width="0.8" fill="none"/>
<path d="M463.99 358.6L468.16 358.6" stroke="#1c1c1c" stroke-width="0.8" fill="none"/>
<rect x="461.9" y="363.42" width="8.35" height="56.98" fill="#868686"/>
<path d="M459.9 437.34L472.25 426.6M459.9 431.94L472.25 421.2M459.9 426.54L472.25 415.8M459.9 421.14L472.25 410.4M459.9 415.74L472.25 405M459.9 410.34L472.25 399.6M459.9 404.94L472.25 394.2M459.9 399.54L472.25 388.8M459.9 394.14L472.25 383.4M459.9 388.74L472.25 378M459.9 383.34L472.25 372.6M459.9 377.94L472.25 367.2M459.9 372.54L472.25 361.8M459.9 367.14L472.25 356.4" stroke="#d6d6d6" stroke-width="1.87" fill="none" clip-path="url(#c17)"/>
<rect x="461.9" y="363.42" width="8.35" height="56.98" fill="none" stroke="#444" stroke-width="0.85"/>
<path d="M478.28 370.5L478.28 362.57" stroke="#1c1c1c" stroke-width="0.8" fill="none"/>
<path d="M476.19 362.57L480.36 362.57" stroke="#1c1c1c" stroke-width="0.8" fill="none"/>
<rect x="474.1" y="370.5" width="8.35" height="49.9" fill="#585858"/>
<path d="M472.1 437.34L484.45 426.6M472.1 431.94L484.45 421.2M472.1 426.54L484.45 415.8M472.1 421.14L484.45 410.4M472.1 415.74L484.45 405M472.1 410.34L484.45 399.6M472.1 404.94L484.45 394.2M472.1 399.54L484.45 388.8M472.1 394.14L484.45 383.4M472.1 388.74L484.45 378M472.1 383.34L484.45 372.6M472.1 377.94L484.45 367.2M472.1 372.54L484.45 361.8" stroke="#dedede" stroke-width="1.87" fill="none" clip-path="url(#c18)"/>
<rect x="474.1" y="370.5" width="8.35" height="49.9" fill="none" stroke="#333" stroke-width="0.85"/>
<path d="M490.48 384.96L490.48 378.27" stroke="#1c1c1c" stroke-width="0.8" fill="none"/>
<path d="M488.39 378.27L492.56 378.27" stroke="#1c1c1c" stroke-width="0.8" fill="none"/>
<rect x="486.3" y="384.96" width="8.35" height="35.44" fill="#242424"/>
<path d="M484.3 437.34L496.65 426.6M484.3 431.94L496.65 421.2M484.3 426.54L496.65 415.8M484.3 421.14L496.65 410.4M484.3 415.74L496.65 405M484.3 410.34L496.65 399.6M484.3 404.94L496.65 394.2M484.3 399.54L496.65 388.8M484.3 394.14L496.65 383.4M484.3 388.74L496.65 378" stroke="#cccccc" stroke-width="1.87" fill="none" clip-path="url(#c19)"/>
<rect x="486.3" y="384.96" width="8.35" height="35.44" fill="none" stroke="#111" stroke-width="0.85"/>
<path d="M502.68 392.05L502.68 388.19" stroke="#1c1c1c" stroke-width="0.8" fill="none"/>
<path d="M500.59 388.19L504.76 388.19" stroke="#1c1c1c" stroke-width="0.8" fill="none"/>
<rect x="498.5" y="392.05" width="8.35" height="28.35" fill="#000"/>
<path d="M496.5 437.34L508.85 426.6M496.5 431.94L508.85 421.2M496.5 426.54L508.85 415.8M496.5 421.14L508.85 410.4M496.5 415.74L508.85 405M496.5 410.34L508.85 399.6M496.5 404.94L508.85 394.2M496.5 399.54L508.85 388.8M496.5 394.14L508.85 383.4" stroke="#e6e6e6" stroke-width="1.87" fill="none" clip-path="url(#c20)"/>
<rect x="498.5" y="392.05" width="8.35" height="28.35" fill="none" stroke="#000" stroke-width="0.85"/>
<path d="M433.5 335.12L433.5 420.4" stroke="#0a0a0a" stroke-width="0.46" fill="none"/>
<path d="M428.5 420.4L511.3 420.4" stroke="#0a0a0a" stroke-width="0.46" fill="none"/>
<text x="427.2" y="423.55" font-size="8.6" text-anchor="end" fill="#111" stroke="#111" stroke-width="0.22">0</text>
<path d="M428.5 392.05L433.5 392.05" stroke="#0a0a0a" stroke-width="0.46" fill="none"/>
<text x="427.2" y="395.2" font-size="8.6" text-anchor="end" fill="#111" stroke="#111" stroke-width="0.22">50</text>
<path d="M428.5 363.7L433.5 363.7" stroke="#0a0a0a" stroke-width="0.46" fill="none"/>
<text x="427.2" y="366.85" font-size="8.6" text-anchor="end" fill="#111" stroke="#111" stroke-width="0.22">100</text>
<path d="M428.5 335.35L433.5 335.35" stroke="#0a0a0a" stroke-width="0.46" fill="none"/>
<text x="427.2" y="338.5" font-size="8.6" text-anchor="end" fill="#111" stroke="#111" stroke-width="0.22">150</text>
<path d="M441.68 420.4L441.68 425.4" stroke="#0a0a0a" stroke-width="0.46" fill="none"/>
<text x="441.68" y="434.45" font-size="8.6" text-anchor="middle" fill="#111" stroke="#111" stroke-width="0.22">0</text>
<path d="M453.88 420.4L453.88 425.4" stroke="#0a0a0a" stroke-width="0.46" fill="none"/>
<text x="453.88" y="434.45" font-size="8.6" text-anchor="middle" fill="#111" stroke="#111" stroke-width="0.22">2.5</text>
<path d="M466.07 420.4L466.07 425.4" stroke="#0a0a0a" stroke-width="0.46" fill="none"/>
<text x="466.07" y="434.45" font-size="8.6" text-anchor="middle" fill="#111" stroke="#111" stroke-width="0.22">5</text>
<path d="M478.28 420.4L478.28 425.4" stroke="#0a0a0a" stroke-width="0.46" fill="none"/>
<text x="478.28" y="434.45" font-size="8.6" text-anchor="middle" fill="#111" stroke="#111" stroke-width="0.22">10</text>
<path d="M490.48 420.4L490.48 425.4" stroke="#0a0a0a" stroke-width="0.46" fill="none"/>
<text x="490.48" y="434.45" font-size="8.6" text-anchor="middle" fill="#111" stroke="#111" stroke-width="0.22">25</text>
<path d="M502.68 420.4L502.68 425.4" stroke="#0a0a0a" stroke-width="0.46" fill="none"/>
<text x="502.68" y="434.45" font-size="8.6" text-anchor="middle" fill="#111" stroke="#111" stroke-width="0.22">50</text>
<text x="471.9" y="446.95" font-size="8.6" text-anchor="middle" fill="#111" stroke="#111" stroke-width="0.22">SBDS [µg/ml]</text>
<text x="407.75" y="378.4" font-size="8.6" text-anchor="middle" fill="#111" stroke="#111" stroke-width="0.22" transform="rotate(-90 407.75 378.4)">VEGF [% rel. to Vehicle]</text>
<path d="M502.8 382.67L503.2 383.75L504.35 383.8L503.45 384.51L503.76 385.62L502.8 384.99L501.84 385.62L502.15 384.51L501.25 383.8L502.4 383.75Z" fill="#1a1a1a" stroke="#1a1a1a" stroke-width="0.35" stroke-linejoin="round"/>
<text x="305.5" y="48" font-size="7.6" text-anchor="middle" fill="#222" stroke="#222" stroke-width="0.22">0</text>
<text x="318.5" y="48" font-size="7.6" text-anchor="middle" fill="#222" stroke="#222" stroke-width="0.22">0</text>
<text x="332.8" y="48" font-size="7.6" text-anchor="middle" fill="#222" stroke="#222" stroke-width="0.22">2.5</text>
<text x="348.3" y="48" font-size="7.6" text-anchor="middle" fill="#222" stroke="#222" stroke-width="0.22">2.5</text>
<text x="362.5" y="48" font-size="7.6" text-anchor="middle" fill="#222" stroke="#222" stroke-width="0.22">25</text>
<text x="377.8" y="48" font-size="7.6" text-anchor="middle" fill="#222" stroke="#222" stroke-width="0.22">25</text>
<text x="391.1" y="48" font-size="7.6" text-anchor="middle" fill="#222" stroke="#222" stroke-width="0.22">50</text>
<text x="305.5" y="59.2" font-size="7" text-anchor="middle" fill="#444" stroke="#444" stroke-width="0.22">-</text>
<text x="318.5" y="59" font-size="6.6" text-anchor="middle" fill="#444" stroke="#444" stroke-width="0.22">+</text>
<text x="332.8" y="59.2" font-size="7" text-anchor="middle" fill="#444" stroke="#444" stroke-width="0.22">-</text>
<text x="348.3" y="59" font-size="6.6" text-anchor="middle" fill="#444" stroke="#444" stroke-width="0.22">+</text>
<text x="362.5" y="59.2" font-size="7" text-anchor="middle" fill="#444" stroke="#444" stroke-width="0.22">-</text>
<text x="377.8" y="59" font-size="6.6" text-anchor="middle" fill="#444" stroke="#444" stroke-width="0.22">+</text>
<text x="391.1" y="59.2" font-size="7" text-anchor="middle" fill="#444" stroke="#444" stroke-width="0.22">-</text>
<text x="400.4" y="48" font-size="7.6" text-anchor="start" fill="#222" stroke="#222" stroke-width="0.22" textLength="38.6" lengthAdjust="spacingAndGlyphs">µg/ml SBDS</text>
<text x="400.4" y="59.9" font-size="7.6" text-anchor="start" fill="#222" stroke="#222" stroke-width="0.22" textLength="10.5" lengthAdjust="spacingAndGlyphs">CM</text>
<text x="275" y="68.2" font-size="7.6" text-anchor="end" fill="#222" stroke="#222" stroke-width="0.08" textLength="25.8" lengthAdjust="spacingAndGlyphs">150 kDa</text>
<text x="275" y="81.7" font-size="7.6" text-anchor="end" fill="#222" stroke="#222" stroke-width="0.08" textLength="25.8" lengthAdjust="spacingAndGlyphs">100 kDa</text>
<text x="275" y="96.2" font-size="7.6" text-anchor="end" fill="#222" stroke="#222" stroke-width="0.08" textLength="22" lengthAdjust="spacingAndGlyphs">50 kDa</text>
<text x="275" y="116.6" font-size="7.6" text-anchor="end" fill="#222" stroke="#222" stroke-width="0.08" textLength="22" lengthAdjust="spacingAndGlyphs">37 kDa</text>
<text x="408.3" y="72.6" font-size="7.6" text-anchor="start" fill="#222" stroke="#222" stroke-width="0.08" textLength="15.1" lengthAdjust="spacingAndGlyphs">iNOS</text>
<text x="408.3" y="81.1" font-size="7.6" text-anchor="start" fill="#222" stroke="#222" stroke-width="0.08" textLength="25" lengthAdjust="spacingAndGlyphs">131 kDa</text>
<text x="408.3" y="104.2" font-size="7.6" text-anchor="start" fill="#222" stroke="#222" stroke-width="0.08" textLength="16" lengthAdjust="spacingAndGlyphs">Actin</text>
<text x="408.3" y="113.1" font-size="7.6" text-anchor="start" fill="#222" stroke="#222" stroke-width="0.08" textLength="21.6" lengthAdjust="spacingAndGlyphs">42 kDa</text>
<rect x="278.2" y="62.1" width="127.8" height="22.5" fill="url(#g1)"/>
<g filter="url(#bl)">
<rect x="284.5" y="66.6" width="8.6" height="1.5" fill="#9c9c9c"/>
<rect x="284.5" y="79.6" width="8.6" height="1.5" fill="#9c9c9c"/>
<rect x="313.6" y="69.4" width="11.0" height="2.6" fill="#262626"/>
<rect x="343.9" y="68.4" width="11.8" height="4.0" fill="#000"/>
<rect x="298" y="70.3" width="9" height="1.2" fill="#707070"/>
<rect x="358.5" y="70.0" width="5" height="1.2" fill="#6c6c6c"/>
</g>
<rect x="278.2" y="92.1" width="127.8" height="27.1" fill="url(#g2)"/>
<g filter="url(#bl)">
<rect x="284.6" y="93.0" width="10.2" height="2.8" fill="#ffffff"/>
<rect x="286.0" y="115.0" width="8.8" height="1.8" fill="#ececec"/>
</g>
<g filter="url(#bl2)">
<rect x="296" y="103.7" width="16.2" height="5" rx="1.5" fill="#000"/>
<rect x="312.2" y="104.1" width="15.2" height="4.4" rx="1.5" fill="#060606"/>
<rect x="327.4" y="104.75" width="15.8" height="4.3" rx="1.5" fill="#181818"/>
<rect x="343.2" y="105.25" width="14.5" height="3.9" rx="1.5" fill="#363636"/>
<rect x="357.7" y="104.75" width="15.5" height="4.1" rx="1.5" fill="#1c1c1c"/>
<rect x="373.2" y="103.7" width="15.3" height="4.4" rx="1.5" fill="#242424"/>
<rect x="388.5" y="103.55" width="15.7" height="3.9" rx="1.5" fill="#141414"/>
</g>
<circle cx="240.6" cy="116" r="0.5" fill="#555"/>
</g>
</svg>
</body></html>
